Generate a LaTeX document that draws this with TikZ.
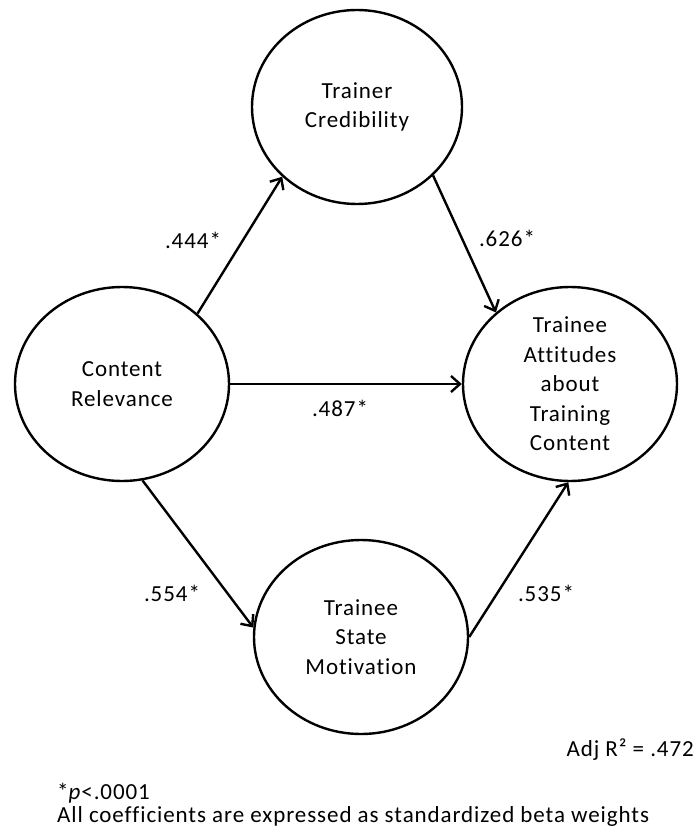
\documentclass[tikz,border=0pt]{standalone}
\usepackage{fontspec}
\setmainfont{Carlito}[LetterSpace=4,Ligatures={NoCommon}]
\usetikzlibrary{shapes.geometric,arrows.meta}
\begin{document}
\begin{tikzpicture}[x=1pt,y=-1pt,
  construct/.style={ellipse,draw,line width=2.4pt,minimum width=214pt,minimum height=194pt,inner sep=0pt},
  txt/.style={align=center,inner sep=0pt,font=\fontsize{23}{29.5}\selectfont},
  coef/.style={inner sep=0pt,font=\fontsize{23}{28}\selectfont},
  link/.style={line width=2.4pt,-{Straight Barb[length=9pt,width=16pt,line width=2.4pt]}}]
\useasboundingbox (0,0) rectangle (698,829);

% constructs
\node[construct] (cr) at (122,384) {};
\node[construct,minimum width=210pt] (tc) at (357,107) {};
\node[construct] (ta) at (570,384) {};
\node[construct] (sm) at (361,637) {};

\node[txt] (crt) at (cr) {Content\\Relevance};
\node[txt] (tct) at (tc) {Trainer\\Credibility};
\node[txt] (tat) at (ta) {Trainee\\Attitudes\\about\\Training\\Content};
\node[txt] (smt) at (sm) {Trainee\\State\\Motivation};

% paths
\draw[link] (cr.43) -- (tc.223);
\draw[link] (tc.-42) -- (ta.136);
\draw[link] (cr.0) -- (ta.180);
\draw[link] (cr.-78) -- (sm.175);
\draw[link] (sm.0) -- (ta.-91);

% coefficients
\node[coef] (c1) at (193,240) {.444*};
\node[coef] (c2) at (507,238) {.626*};
\node[coef] (c3) at (340,408) {.487*};
\node[coef] (c4) at (172,593) {.554*};
\node[coef] (c5) at (546,593) {.535*};

% notes
\node[coef,anchor=east] (adj) at (694,750) {Adj R² = .472};
\node[coef,anchor=west] (pv) at (57,793) {*\textit{p}<.0001};
\node[coef,anchor=west] (note) at (57,816) {All coefficients are expressed as standardized beta weights};
\end{tikzpicture}
\end{document}
